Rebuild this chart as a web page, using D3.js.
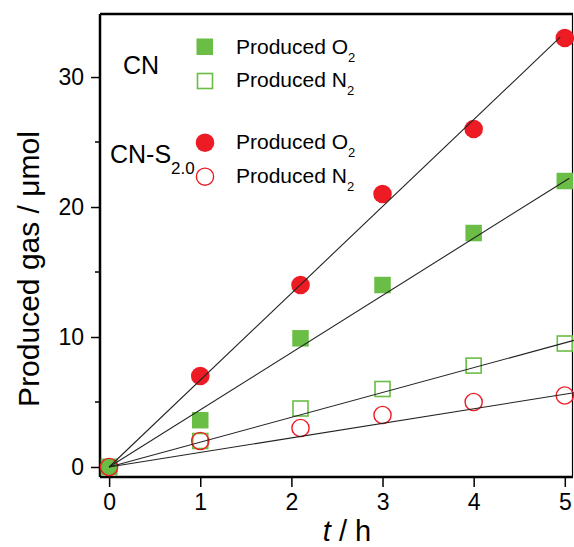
<!DOCTYPE html>
<html>
<head>
<meta charset="utf-8">
<script src="https://cdn.jsdelivr.net/npm/d3@7"></script>
<style>
  body { margin: 0; background: #ffffff; }
  svg text { font-family: "Liberation Sans", Arial, sans-serif; fill: #000000; }
</style>
</head>
<body>
<svg id="gas_svg" width="574" height="547"></svg>
<script>
  // values (null = no visible marker)
  var times = [0, 1, 2.1, 3, 4, 5];
  var cn_o2 = [0, 3.6, 9.9, 14, 18, 22];
  var cn_n2 = [0, 2, 4.5, 6, 7.8, 9.5];
  var cns_o2 = [null, 7, 14, 21, 26, 33];
  var cns_n2 = [0, 2, 3, 4, 5, 5.5];
  // fitted lines through the origin (slope, last t)
  var fit_slopes = [6.68, 4.4, 1.91, 1.12];
  var fit_ends = [4.95, 5.05, 5.1, 5.1];
  var x_ticks = [0, 1, 2, 3, 4, 5];
  var y_ticks = [0, 10, 20, 30];
  var y_minor = [5, 15, 25];

  (function () {
      var green = "#6abd45", red = "#ed1c24";
      var svg = d3.select("svg#gas_svg");
      var x = d3.scaleLinear().domain([-0.1, 5.09]).range([100, 573]);
      var y = d3.scaleLinear().domain([-0.77, 34.85]).range([477, 14]);

      // frame
      svg.append("line").attr("x1", 100).attr("x2", 573).attr("y1", 14).attr("y2", 14).
          attr("stroke", "#000").attr("stroke-width", 2.4);
      svg.append("line").attr("x1", 572.5).attr("x2", 572.5).attr("y1", 14).attr("y2", 477).
          attr("stroke", "#000").attr("stroke-width", 1.2);

      // axes
      var xAxis = svg.append("g").attr("transform", "translate(0,477)").
          call(d3.axisBottom(x).tickValues(x_ticks).tickSize(10).tickPadding(6).
               tickFormat(d3.format("d")));
      var yAxis = svg.append("g").attr("transform", "translate(100,0)").
          call(d3.axisLeft(y).tickValues(y_ticks).tickSize(9).tickPadding(7).
               tickFormat(d3.format("d")));
      yAxis.selectAll(".minor").data(y_minor).enter().append("line").
          attr("x1", -5).attr("x2", 0).attr("y1", d => y(d)).attr("y2", d => y(d)).
          attr("stroke", "#000").attr("stroke-width", 1.5);
      [xAxis, yAxis].forEach(function (a) {
          a.select(".domain").attr("stroke-width", 2.5);
          a.selectAll(".tick line").attr("stroke-width", 1.5);
          a.selectAll(".tick text").style("font-size", "23px").
              style("font-family", "'Liberation Sans', Arial, sans-serif");
      });
      xAxis.select(".domain").attr("d", "M100,0H573");
      yAxis.select(".domain").attr("d", "M0,14V477");
      xAxis.selectAll(".tick text").attr("dy", "0.75em");

      // axis titles
      var xt = svg.append("text").attr("x", 347).attr("y", 541).
          attr("text-anchor", "middle").style("font-size", "29px");
      xt.append("tspan").style("font-style", "italic").text("t");
      xt.append("tspan").text(" / h");
      svg.append("text").attr("transform", "translate(39,269) rotate(-90)").
          attr("text-anchor", "middle").style("font-size", "30px").
          text("Produced gas / \u03bcmol");

      // markers
      var pts = function (vals) {
          return times.map((t, i) => [t, vals[i]]).filter(d => d[1] != null);
      };
      var sq = 16.5;
      svg.append("g").selectAll("rect").data(pts(cn_o2)).enter().append("rect").
          attr("x", d => x(d[0]) - sq / 2).attr("y", d => y(d[1]) - sq / 2).
          attr("width", sq).attr("height", sq).attr("fill", green);
      svg.append("g").selectAll("rect").data(pts(cn_n2)).enter().append("rect").
          attr("x", d => x(d[0]) - 7.5).attr("y", d => y(d[1]) - 7.5).
          attr("width", 15).attr("height", 15).attr("fill", "none").
          attr("stroke", green).attr("stroke-width", 1.6);
      svg.append("g").selectAll("circle").data(pts(cns_o2)).enter().append("circle").
          attr("cx", d => x(d[0])).attr("cy", d => y(d[1])).attr("r", 9.3).
          attr("fill", red);
      svg.append("g").selectAll("circle").data(pts(cns_n2)).enter().append("circle").
          attr("cx", d => x(d[0])).attr("cy", d => y(d[1])).attr("r", 8.6).
          attr("fill", "none").attr("stroke", red).attr("stroke-width", 1.4);

      // fit lines on top
      svg.append("g").selectAll("line").data(fit_slopes).enter().append("line").
          attr("x1", x(0)).attr("y1", y(0)).
          attr("x2", (d, i) => x(fit_ends[i])).attr("y2", (d, i) => y(d * fit_ends[i])).
          attr("stroke", "#222").attr("stroke-width", 1.1);

      // legend
      var leg = svg.append("g");
      leg.append("text").attr("x", 123).attr("y", 74).style("font-size", "25px").text("CN");
      var cs = leg.append("text").attr("x", 110).attr("y", 163).style("font-size", "25px");
      cs.append("tspan").text("CN-S");
      cs.append("tspan").attr("dy", 11).style("font-size", "17px").text("2.0");

      leg.append("rect").attr("x", 196.5).attr("y", 38.5).attr("width", sq).attr("height", sq).
          attr("fill", green);
      leg.append("rect").attr("x", 197.5).attr("y", 73.5).attr("width", 15).attr("height", 15).
          attr("fill", "none").attr("stroke", green).attr("stroke-width", 1.6);
      leg.append("circle").attr("cx", 205).attr("cy", 142.7).attr("r", 9.3).attr("fill", red);
      leg.append("circle").attr("cx", 205).attr("cy", 176.7).attr("r", 8.6).
          attr("fill", "none").attr("stroke", red).attr("stroke-width", 1.4);

      var labels = [["O", 54], ["N", 87], ["O", 149], ["N", 183]];
      labels.forEach(function (l) {
          var t = leg.append("text").attr("x", 236).attr("y", l[1]).style("font-size", "21px");
          t.append("tspan").text("Produced " + l[0]);
          t.append("tspan").attr("dy", 8).style("font-size", "13px").text("2");
      });
  })();
</script>
</body>
</html>
